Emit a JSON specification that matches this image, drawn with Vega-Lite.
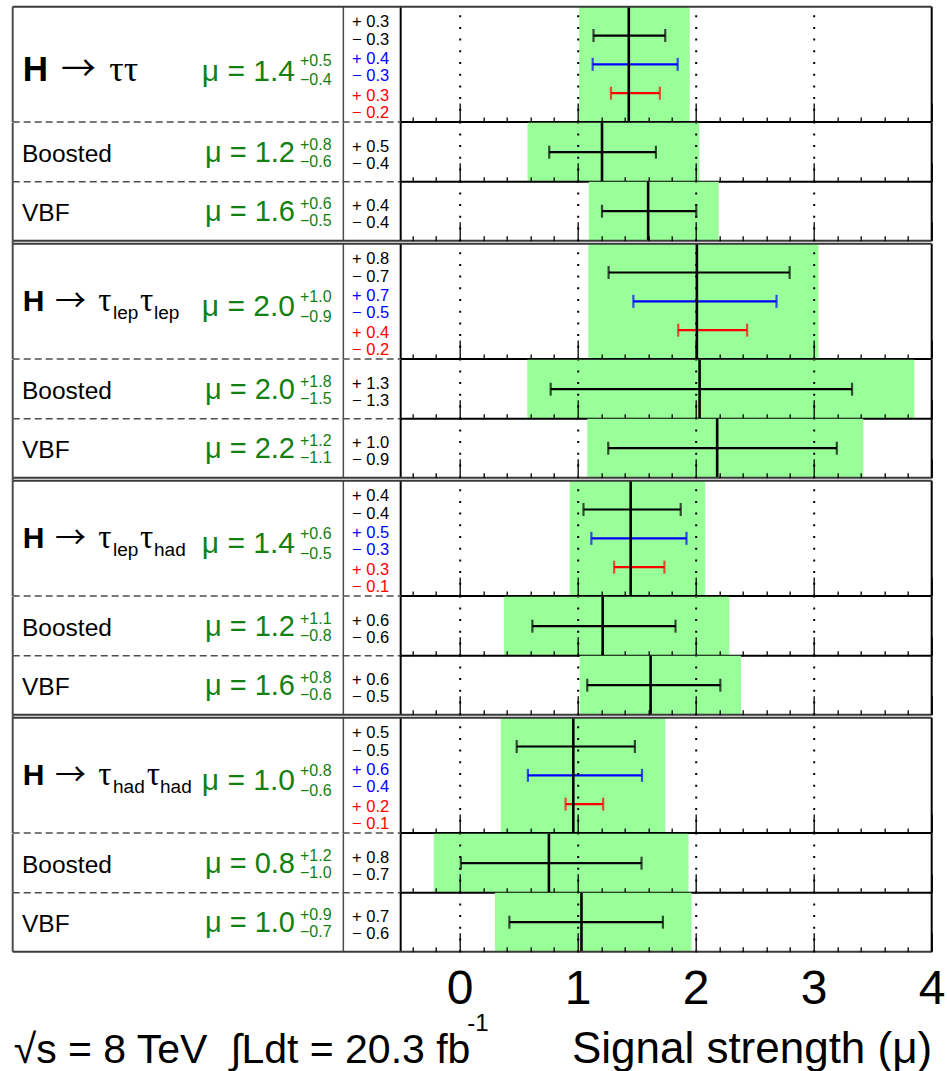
{
"$schema": "https://vega.github.io/schema/vega-lite/v6.json",
"padding": {"left": 11.7, "top": 4.7, "right": 0, "bottom": 0},
"config": {"view": {"stroke": null}, "font": "Liberation Sans", "text": {"font": "Liberation Sans", "color": "#000"}},
"datasets": {
"rows": [
 {"id":"tt","s1":"","s2":"","mu":1.433,"lo":1.012,"hi":1.949,"mt":"μ = 1.4","up":"+0.5","dn":"−0.4"},
 {"id":"tt_b","name":"Boosted","mu":1.206,"lo":0.575,"hi":2.031,"mt":"μ = 1.2","up":"+0.8","dn":"−0.6"},
 {"id":"tt_v","name":"VBF","mu":1.597,"lo":1.094,"hi":2.195,"mt":"μ = 1.6","up":"+0.6","dn":"−0.5"},
 {"id":"ll","s1":"lep","s2":"lep","mu":2.010,"lo":1.090,"hi":3.041,"mt":"μ = 2.0","up":"+1.0","dn":"−0.9"},
 {"id":"ll_b","name":"Boosted","mu":2.033,"lo":0.573,"hi":3.853,"mt":"μ = 2.0","up":"+1.8","dn":"−1.5"},
 {"id":"ll_v","name":"VBF","mu":2.182,"lo":1.081,"hi":3.421,"mt":"μ = 2.2","up":"+1.2","dn":"−1.1"},
 {"id":"lh","s1":"lep","s2":"had","mu":1.449,"lo":0.932,"hi":2.080,"mt":"μ = 1.4","up":"+0.6","dn":"−0.5"},
 {"id":"lh_b","name":"Boosted","mu":1.212,"lo":0.374,"hi":2.285,"mt":"μ = 1.2","up":"+1.1","dn":"−0.8"},
 {"id":"lh_v","name":"VBF","mu":1.618,"lo":1.017,"hi":2.384,"mt":"μ = 1.6","up":"+0.8","dn":"−0.6"},
 {"id":"hh","s1":"had","s2":"had","mu":0.963,"lo":0.348,"hi":1.742,"mt":"μ = 1.0","up":"+0.8","dn":"−0.6"},
 {"id":"hh_b","name":"Boosted","mu":0.756,"lo":-0.220,"hi":1.939,"mt":"μ = 0.8","up":"+1.2","dn":"−1.0"},
 {"id":"hh_v","name":"VBF","mu":1.032,"lo":0.299,"hi":1.965,"mt":"μ = 1.0","up":"+0.9","dn":"−0.7"}
],
"bars": [
 {"id":"tt","kind":"stat","lo":1.134,"hi":1.742,"up":"+ 0.3","dn":"− 0.3"},
 {"id":"tt","kind":"syst","lo":1.127,"hi":1.847,"up":"+ 0.4","dn":"− 0.3"},
 {"id":"tt","kind":"theo","lo":1.282,"hi":1.696,"up":"+ 0.3","dn":"− 0.2"},
 {"id":"tt_b","kind":"stat","lo":0.759,"hi":1.663,"up":"+ 0.5","dn":"− 0.4"},
 {"id":"tt_v","kind":"stat","lo":1.206,"hi":2.005,"up":"+ 0.4","dn":"− 0.4"},
 {"id":"ll","kind":"stat","lo":1.262,"hi":2.796,"up":"+ 0.8","dn":"− 0.7"},
 {"id":"ll","kind":"syst","lo":1.472,"hi":2.685,"up":"+ 0.7","dn":"− 0.5"},
 {"id":"ll","kind":"theo","lo":1.852,"hi":2.436,"up":"+ 0.4","dn":"− 0.2"},
 {"id":"ll_b","kind":"stat","lo":0.771,"hi":3.325,"up":"+ 1.3","dn":"− 1.3"},
 {"id":"ll_v","kind":"stat","lo":1.259,"hi":3.196,"up":"+ 1.0","dn":"− 0.9"},
 {"id":"lh","kind":"stat","lo":1.049,"hi":1.873,"up":"+ 0.4","dn":"− 0.4"},
 {"id":"lh","kind":"syst","lo":1.116,"hi":1.922,"up":"+ 0.5","dn":"− 0.3"},
 {"id":"lh","kind":"theo","lo":1.309,"hi":1.735,"up":"+ 0.3","dn":"− 0.1"},
 {"id":"lh_b","kind":"stat","lo":0.616,"hi":1.829,"up":"+ 0.6","dn":"− 0.6"},
 {"id":"lh_v","kind":"stat","lo":1.081,"hi":2.209,"up":"+ 0.6","dn":"− 0.5"},
 {"id":"hh","kind":"stat","lo":0.483,"hi":1.485,"up":"+ 0.5","dn":"− 0.5"},
 {"id":"hh","kind":"syst","lo":0.578,"hi":1.545,"up":"+ 0.6","dn":"− 0.4"},
 {"id":"hh","kind":"theo","lo":0.897,"hi":1.216,"up":"+ 0.2","dn":"− 0.1"},
 {"id":"hh_b","kind":"stat","lo":0.010,"hi":1.541,"up":"+ 0.8","dn":"− 0.7"},
 {"id":"hh_v","kind":"stat","lo":0.421,"hi":1.722,"up":"+ 0.7","dn":"− 0.6"}
],
"gap": [{"g": 1}]
},
"bounds": "flush",
"spacing": 0,
"vconcat": [
 {"width": 919, "height": 115.3, "data": {"name": "rows"}, "transform": [{"filter": "datum.id == 'tt'"}], "resolve": {"scale": {"y": "independent"}},
  "layer": [
   {"mark": {"type": "rect", "color": "#99ff99"}, "encoding": {"x": {"field": "lo", "type": "quantitative", "scale": {"domain": [-3.788, 4], "nice": false, "zero": false}, "axis": {"title": null, "values": [-0.4,-0.2,0,0.2,0.4,0.6,0.8,1,1.2,1.4,1.6,1.8,2,2.2,2.4,2.6,2.8,3,3.2,3.4,3.6,3.8,4], "labels": false, "domain": false, "grid": true, "zindex": 1, "gridColor": "#000", "gridWidth": 2, "gridDash": [2, 9.7], "gridOpacity": {"condition": {"test": "datum.value == round(datum.value) && datum.value < 3.5", "value": 1}, "value": 0}, "tickColor": "#000", "tickWidth": 1.3, "tickSize": {"condition": {"test": "datum.value == round(datum.value)", "value": -19}, "value": -5}}}, "x2": {"field": "hi"}}},
   {"data": {"name": "bars"}, "transform": [{"filter": "datum.id == 'tt'"}], "encoding": {"y": {"field": "kind", "type": "nominal", "scale": {"type": "point", "padding": 1}, "axis": null}, "color": {"field": "kind", "type": "nominal", "scale": {"domain": ["stat","syst","theo"], "range": ["#000000","#0000ff","#ff0000"]}, "legend": null}},
    "layer": [
     {"mark": {"type": "rule", "strokeWidth": 2.2}, "encoding": {"x": {"field": "lo", "type": "quantitative"}, "x2": {"field": "hi"}}},
     {"mark": {"type": "tick", "thickness": 2.2, "size": 13}, "encoding": {"x": {"field": "lo", "type": "quantitative"}}},
     {"mark": {"type": "tick", "thickness": 2.2, "size": 13}, "encoding": {"x": {"field": "hi", "type": "quantitative"}}}
    ]},
   {"mark": {"type": "rule", "color": "#000", "strokeWidth": 2.6}, "encoding": {"x": {"field": "mu", "type": "quantitative"}}},
   {"data": {"name": "bars"}, "transform": [{"filter": "datum.id == 'tt'"}], "encoding": {"x": {"datum": -0.597, "type": "quantitative"}, "y": {"field": "kind", "type": "nominal", "scale": {"type": "point", "padding": 0.57}, "axis": null}, "color": {"field": "kind", "type": "nominal", "legend": null}},
    "layer": [
     {"mark": {"type": "text", "align": "right", "baseline": "alphabetic", "fontSize": 16.5, "dy": -0.5}, "encoding": {"text": {"field": "up"}}},
     {"mark": {"type": "text", "align": "right", "baseline": "alphabetic", "fontSize": 16.5, "dy": 17}, "encoding": {"text": {"field": "dn"}}}
    ]},
   {"layer": [
     {"mark": {"type": "text", "text": "H", "fontSize": 35, "fontWeight": "bold", "align": "left", "baseline": "alphabetic", "dx": 0.7, "dy": 17, "color": "#000"}, "encoding": {"x": {"datum": -3.709, "type": "quantitative"}, "y": {"datum": 0.5, "type": "quantitative", "scale": {"domain": [0, 1]}, "axis": null}}},
     {"mark": {"type": "text", "text": "→", "font": "Noto Sans CJK SC", "fontSize": 35, "align": "left", "baseline": "alphabetic", "dx": 39, "dy": 17, "color": "#000"}, "encoding": {"x": {"datum": -3.709, "type": "quantitative"}, "y": {"datum": 0.5, "type": "quantitative"}}},
     {"mark": {"type": "text", "text": "ττ", "font": "Liberation Serif", "fontSize": 36, "align": "left", "baseline": "alphabetic", "dx": 87.3, "dy": 17, "color": "#000"}, "encoding": {"x": {"datum": -3.709, "type": "quantitative"}, "y": {"datum": 0.5, "type": "quantitative"}}},
     {"mark": {"type": "text", "fontSize": 30, "align": "right", "baseline": "alphabetic", "dy": 16.5, "color": "#138013"}, "encoding": {"x": {"datum": -1.396, "type": "quantitative"}, "y": {"datum": 0.5, "type": "quantitative"}, "text": {"field": "mt"}}},
     {"mark": {"type": "text", "fontSize": 16, "align": "left", "baseline": "alphabetic", "dy": 1.5, "color": "#138013"}, "encoding": {"x": {"datum": -1.353, "type": "quantitative"}, "y": {"datum": 0.5, "type": "quantitative"}, "text": {"field": "up"}}},
     {"mark": {"type": "text", "fontSize": 16, "align": "left", "baseline": "alphabetic", "dy": 20.5, "color": "#138013"}, "encoding": {"x": {"datum": -1.353, "type": "quantitative"}, "y": {"datum": 0.5, "type": "quantitative"}, "text": {"field": "dn"}}},
     {"mark": {"type": "rule", "color": "#4d4d4d", "strokeWidth": 2}, "encoding": {"x": {"datum": -3.788, "type": "quantitative"}}},
     {"mark": {"type": "rule", "color": "#4d4d4d", "strokeWidth": 1.5}, "encoding": {"x": {"datum": -0.986, "type": "quantitative"}}},
     {"mark": {"type": "rule", "color": "#000", "strokeWidth": 2}, "encoding": {"x": {"datum": -0.5, "type": "quantitative"}}},
     {"mark": {"type": "rule", "color": "#000", "strokeWidth": 2}, "encoding": {"x": {"datum": 4, "type": "quantitative"}}},
     {"mark": {"type": "rule", "color": "#3a3a3a", "strokeWidth": 2}, "encoding": {"x": {"datum": -3.788, "type": "quantitative"}, "x2": {"datum": 4}, "y": {"datum": 1, "type": "quantitative"}}},
     {"mark": {"type": "rule", "color": "#4d4d4d", "strokeWidth": 1.5, "strokeDash": [7, 4]}, "encoding": {"x": {"datum": -3.788, "type": "quantitative"}, "x2": {"datum": -0.5}, "y": {"datum": 0, "type": "quantitative"}}},
     {"mark": {"type": "rule", "color": "#000", "strokeWidth": 2}, "encoding": {"x": {"datum": -0.5, "type": "quantitative"}, "x2": {"datum": 4}, "y": {"datum": 0, "type": "quantitative"}}}
   ]}
  ]},
 {"width": 919, "height": 59, "data": {"name": "rows"}, "transform": [{"filter": "datum.id == 'tt_b'"}], "resolve": {"scale": {"y": "independent"}},
  "layer": [
   {"mark": {"type": "rect", "color": "#99ff99"}, "encoding": {"x": {"field": "lo", "type": "quantitative", "scale": {"domain": [-3.788, 4], "nice": false, "zero": false}, "axis": {"title": null, "values": [-0.4,-0.2,0,0.2,0.4,0.6,0.8,1,1.2,1.4,1.6,1.8,2,2.2,2.4,2.6,2.8,3,3.2,3.4,3.6,3.8,4], "labels": false, "domain": false, "grid": true, "zindex": 1, "gridColor": "#000", "gridWidth": 2, "gridDash": [2, 9.7], "gridOpacity": {"condition": {"test": "datum.value == round(datum.value) && datum.value < 3.5", "value": 1}, "value": 0}, "tickColor": "#000", "tickWidth": 1.3, "tickSize": {"condition": {"test": "datum.value == round(datum.value)", "value": -19}, "value": -5}}}, "x2": {"field": "hi"}}},
   {"data": {"name": "bars"}, "transform": [{"filter": "datum.id == 'tt_b'"}], "encoding": {"y": {"field": "kind", "type": "nominal", "scale": {"type": "point", "padding": 1}, "axis": null}, "color": {"field": "kind", "type": "nominal", "scale": {"domain": ["stat","syst","theo"], "range": ["#000000","#0000ff","#ff0000"]}, "legend": null}},
    "layer": [
     {"mark": {"type": "rule", "strokeWidth": 2.2}, "encoding": {"x": {"field": "lo", "type": "quantitative"}, "x2": {"field": "hi"}}},
     {"mark": {"type": "tick", "thickness": 2.2, "size": 13}, "encoding": {"x": {"field": "lo", "type": "quantitative"}}},
     {"mark": {"type": "tick", "thickness": 2.2, "size": 13}, "encoding": {"x": {"field": "hi", "type": "quantitative"}}}
    ]},
   {"mark": {"type": "rule", "color": "#000", "strokeWidth": 2.6}, "encoding": {"x": {"field": "mu", "type": "quantitative"}}},
   {"data": {"name": "bars"}, "transform": [{"filter": "datum.id == 'tt_b'"}], "encoding": {"x": {"datum": -0.597, "type": "quantitative"}, "y": {"field": "kind", "type": "nominal", "scale": {"type": "point", "padding": 0.57}, "axis": null}, "color": {"field": "kind", "type": "nominal", "legend": null}},
    "layer": [
     {"mark": {"type": "text", "align": "right", "baseline": "alphabetic", "fontSize": 16.5, "dy": -0.5}, "encoding": {"text": {"field": "up"}}},
     {"mark": {"type": "text", "align": "right", "baseline": "alphabetic", "fontSize": 16.5, "dy": 17}, "encoding": {"text": {"field": "dn"}}}
    ]},
   {"layer": [
     {"mark": {"type": "text", "fontSize": 24.5, "align": "left", "baseline": "alphabetic", "dy": 10.3, "color": "#000"}, "encoding": {"x": {"datum": -3.709, "type": "quantitative"}, "y": {"datum": 0.5, "type": "quantitative", "scale": {"domain": [0, 1]}, "axis": null}, "text": {"field": "name"}}},
     {"mark": {"type": "text", "fontSize": 29, "align": "right", "baseline": "alphabetic", "dy": 10.3, "color": "#138013"}, "encoding": {"x": {"datum": -1.396, "type": "quantitative"}, "y": {"datum": 0.5, "type": "quantitative"}, "text": {"field": "mt"}}},
     {"mark": {"type": "text", "fontSize": 16, "align": "left", "baseline": "alphabetic", "dy": -2.3, "color": "#138013"}, "encoding": {"x": {"datum": -1.353, "type": "quantitative"}, "y": {"datum": 0.5, "type": "quantitative"}, "text": {"field": "up"}}},
     {"mark": {"type": "text", "fontSize": 16, "align": "left", "baseline": "alphabetic", "dy": 15.3, "color": "#138013"}, "encoding": {"x": {"datum": -1.353, "type": "quantitative"}, "y": {"datum": 0.5, "type": "quantitative"}, "text": {"field": "dn"}}},
     {"mark": {"type": "rule", "color": "#4d4d4d", "strokeWidth": 2}, "encoding": {"x": {"datum": -3.788, "type": "quantitative"}}},
     {"mark": {"type": "rule", "color": "#4d4d4d", "strokeWidth": 1.5}, "encoding": {"x": {"datum": -0.986, "type": "quantitative"}}},
     {"mark": {"type": "rule", "color": "#000", "strokeWidth": 2}, "encoding": {"x": {"datum": -0.5, "type": "quantitative"}}},
     {"mark": {"type": "rule", "color": "#000", "strokeWidth": 2}, "encoding": {"x": {"datum": 4, "type": "quantitative"}}},
     {"mark": {"type": "rule", "color": "#4d4d4d", "strokeWidth": 1.5, "strokeDash": [7, 4]}, "encoding": {"x": {"datum": -3.788, "type": "quantitative"}, "x2": {"datum": -0.5}, "y": {"datum": 0, "type": "quantitative"}}},
     {"mark": {"type": "rule", "color": "#000", "strokeWidth": 2}, "encoding": {"x": {"datum": -0.5, "type": "quantitative"}, "x2": {"datum": 4}, "y": {"datum": 0, "type": "quantitative"}}}
   ]}
  ]},
 {"width": 919, "height": 59, "data": {"name": "rows"}, "transform": [{"filter": "datum.id == 'tt_v'"}], "resolve": {"scale": {"y": "independent"}},
  "layer": [
   {"mark": {"type": "rect", "color": "#99ff99"}, "encoding": {"x": {"field": "lo", "type": "quantitative", "scale": {"domain": [-3.788, 4], "nice": false, "zero": false}, "axis": {"title": null, "values": [-0.4,-0.2,0,0.2,0.4,0.6,0.8,1,1.2,1.4,1.6,1.8,2,2.2,2.4,2.6,2.8,3,3.2,3.4,3.6,3.8,4], "labels": false, "domain": false, "grid": true, "zindex": 1, "gridColor": "#000", "gridWidth": 2, "gridDash": [2, 9.7], "gridOpacity": {"condition": {"test": "datum.value == round(datum.value) && datum.value < 3.5", "value": 1}, "value": 0}, "tickColor": "#000", "tickWidth": 1.3, "tickSize": {"condition": {"test": "datum.value == round(datum.value)", "value": -19}, "value": -5}}}, "x2": {"field": "hi"}}},
   {"data": {"name": "bars"}, "transform": [{"filter": "datum.id == 'tt_v'"}], "encoding": {"y": {"field": "kind", "type": "nominal", "scale": {"type": "point", "padding": 1}, "axis": null}, "color": {"field": "kind", "type": "nominal", "scale": {"domain": ["stat","syst","theo"], "range": ["#000000","#0000ff","#ff0000"]}, "legend": null}},
    "layer": [
     {"mark": {"type": "rule", "strokeWidth": 2.2}, "encoding": {"x": {"field": "lo", "type": "quantitative"}, "x2": {"field": "hi"}}},
     {"mark": {"type": "tick", "thickness": 2.2, "size": 13}, "encoding": {"x": {"field": "lo", "type": "quantitative"}}},
     {"mark": {"type": "tick", "thickness": 2.2, "size": 13}, "encoding": {"x": {"field": "hi", "type": "quantitative"}}}
    ]},
   {"mark": {"type": "rule", "color": "#000", "strokeWidth": 2.6}, "encoding": {"x": {"field": "mu", "type": "quantitative"}}},
   {"data": {"name": "bars"}, "transform": [{"filter": "datum.id == 'tt_v'"}], "encoding": {"x": {"datum": -0.597, "type": "quantitative"}, "y": {"field": "kind", "type": "nominal", "scale": {"type": "point", "padding": 0.57}, "axis": null}, "color": {"field": "kind", "type": "nominal", "legend": null}},
    "layer": [
     {"mark": {"type": "text", "align": "right", "baseline": "alphabetic", "fontSize": 16.5, "dy": -0.5}, "encoding": {"text": {"field": "up"}}},
     {"mark": {"type": "text", "align": "right", "baseline": "alphabetic", "fontSize": 16.5, "dy": 17}, "encoding": {"text": {"field": "dn"}}}
    ]},
   {"layer": [
     {"mark": {"type": "text", "fontSize": 24.5, "align": "left", "baseline": "alphabetic", "dy": 10.3, "color": "#000"}, "encoding": {"x": {"datum": -3.709, "type": "quantitative"}, "y": {"datum": 0.5, "type": "quantitative", "scale": {"domain": [0, 1]}, "axis": null}, "text": {"field": "name"}}},
     {"mark": {"type": "text", "fontSize": 29, "align": "right", "baseline": "alphabetic", "dy": 10.3, "color": "#138013"}, "encoding": {"x": {"datum": -1.396, "type": "quantitative"}, "y": {"datum": 0.5, "type": "quantitative"}, "text": {"field": "mt"}}},
     {"mark": {"type": "text", "fontSize": 16, "align": "left", "baseline": "alphabetic", "dy": -2.3, "color": "#138013"}, "encoding": {"x": {"datum": -1.353, "type": "quantitative"}, "y": {"datum": 0.5, "type": "quantitative"}, "text": {"field": "up"}}},
     {"mark": {"type": "text", "fontSize": 16, "align": "left", "baseline": "alphabetic", "dy": 15.3, "color": "#138013"}, "encoding": {"x": {"datum": -1.353, "type": "quantitative"}, "y": {"datum": 0.5, "type": "quantitative"}, "text": {"field": "dn"}}},
     {"mark": {"type": "rule", "color": "#4d4d4d", "strokeWidth": 2}, "encoding": {"x": {"datum": -3.788, "type": "quantitative"}}},
     {"mark": {"type": "rule", "color": "#4d4d4d", "strokeWidth": 1.5}, "encoding": {"x": {"datum": -0.986, "type": "quantitative"}}},
     {"mark": {"type": "rule", "color": "#000", "strokeWidth": 2}, "encoding": {"x": {"datum": -0.5, "type": "quantitative"}}},
     {"mark": {"type": "rule", "color": "#000", "strokeWidth": 2}, "encoding": {"x": {"datum": 4, "type": "quantitative"}}},
     {"mark": {"type": "rule", "color": "#3a3a3a", "strokeWidth": 2}, "encoding": {"x": {"datum": -3.788, "type": "quantitative"}, "x2": {"datum": 4}, "y": {"datum": 0, "type": "quantitative"}}}
   ]}
  ]},
 {"width": 919, "height": 3, "data": {"name": "gap"}, "mark": {"type": "rule", "color": "#4d4d4d", "strokeWidth": 2}, "encoding": {"x": {"datum": -3.788, "type": "quantitative", "scale": {"domain": [-3.788, 4], "nice": false, "zero": false}, "axis": null}}},
 {"width": 919, "height": 115.3, "data": {"name": "rows"}, "transform": [{"filter": "datum.id == 'll'"}], "resolve": {"scale": {"y": "independent"}},
  "layer": [
   {"mark": {"type": "rect", "color": "#99ff99"}, "encoding": {"x": {"field": "lo", "type": "quantitative", "scale": {"domain": [-3.788, 4], "nice": false, "zero": false}, "axis": {"title": null, "values": [-0.4,-0.2,0,0.2,0.4,0.6,0.8,1,1.2,1.4,1.6,1.8,2,2.2,2.4,2.6,2.8,3,3.2,3.4,3.6,3.8,4], "labels": false, "domain": false, "grid": true, "zindex": 1, "gridColor": "#000", "gridWidth": 2, "gridDash": [2, 9.7], "gridOpacity": {"condition": {"test": "datum.value == round(datum.value) && datum.value < 3.5", "value": 1}, "value": 0}, "tickColor": "#000", "tickWidth": 1.3, "tickSize": {"condition": {"test": "datum.value == round(datum.value)", "value": -19}, "value": -5}}}, "x2": {"field": "hi"}}},
   {"data": {"name": "bars"}, "transform": [{"filter": "datum.id == 'll'"}], "encoding": {"y": {"field": "kind", "type": "nominal", "scale": {"type": "point", "padding": 1}, "axis": null}, "color": {"field": "kind", "type": "nominal", "scale": {"domain": ["stat","syst","theo"], "range": ["#000000","#0000ff","#ff0000"]}, "legend": null}},
    "layer": [
     {"mark": {"type": "rule", "strokeWidth": 2.2}, "encoding": {"x": {"field": "lo", "type": "quantitative"}, "x2": {"field": "hi"}}},
     {"mark": {"type": "tick", "thickness": 2.2, "size": 13}, "encoding": {"x": {"field": "lo", "type": "quantitative"}}},
     {"mark": {"type": "tick", "thickness": 2.2, "size": 13}, "encoding": {"x": {"field": "hi", "type": "quantitative"}}}
    ]},
   {"mark": {"type": "rule", "color": "#000", "strokeWidth": 2.6}, "encoding": {"x": {"field": "mu", "type": "quantitative"}}},
   {"data": {"name": "bars"}, "transform": [{"filter": "datum.id == 'll'"}], "encoding": {"x": {"datum": -0.597, "type": "quantitative"}, "y": {"field": "kind", "type": "nominal", "scale": {"type": "point", "padding": 0.57}, "axis": null}, "color": {"field": "kind", "type": "nominal", "legend": null}},
    "layer": [
     {"mark": {"type": "text", "align": "right", "baseline": "alphabetic", "fontSize": 16.5, "dy": -0.5}, "encoding": {"text": {"field": "up"}}},
     {"mark": {"type": "text", "align": "right", "baseline": "alphabetic", "fontSize": 16.5, "dy": 17}, "encoding": {"text": {"field": "dn"}}}
    ]},
   {"layer": [
     {"mark": {"type": "text", "text": "H", "fontSize": 30, "fontWeight": "bold", "align": "left", "baseline": "alphabetic", "dx": 0.7, "dy": 9.7, "color": "#000"}, "encoding": {"x": {"datum": -3.709, "type": "quantitative"}, "y": {"datum": 0.5, "type": "quantitative", "scale": {"domain": [0, 1]}, "axis": null}}},
     {"mark": {"type": "text", "text": "→", "font": "Noto Sans CJK SC", "fontSize": 31, "align": "left", "baseline": "alphabetic", "dx": 33, "dy": 9.7, "color": "#000"}, "encoding": {"x": {"datum": -3.709, "type": "quantitative"}, "y": {"datum": 0.5, "type": "quantitative"}}},
     {"mark": {"type": "text", "text": "τ", "font": "Liberation Serif", "fontSize": 33, "align": "left", "baseline": "alphabetic", "dx": 76.3, "dy": 9.7, "color": "#000"}, "encoding": {"x": {"datum": -3.709, "type": "quantitative"}, "y": {"datum": 0.5, "type": "quantitative"}}},
     {"mark": {"type": "text", "fontSize": 19, "align": "left", "baseline": "alphabetic", "dx": 91, "dy": 18, "color": "#000"}, "encoding": {"x": {"datum": -3.709, "type": "quantitative"}, "y": {"datum": 0.5, "type": "quantitative"}, "text": {"field": "s1"}}},
     {"mark": {"type": "text", "text": "τ", "font": "Liberation Serif", "fontSize": 33, "align": "left", "baseline": "alphabetic", "dx": 118, "dy": 9.7, "color": "#000"}, "encoding": {"x": {"datum": -3.709, "type": "quantitative"}, "y": {"datum": 0.5, "type": "quantitative"}}},
     {"mark": {"type": "text", "fontSize": 19, "align": "left", "baseline": "alphabetic", "dx": 132, "dy": 18, "color": "#000"}, "encoding": {"x": {"datum": -3.709, "type": "quantitative"}, "y": {"datum": 0.5, "type": "quantitative"}, "text": {"field": "s2"}}},
     {"mark": {"type": "text", "fontSize": 30, "align": "right", "baseline": "alphabetic", "dy": 14.7, "color": "#138013"}, "encoding": {"x": {"datum": -1.396, "type": "quantitative"}, "y": {"datum": 0.5, "type": "quantitative"}, "text": {"field": "mt"}}},
     {"mark": {"type": "text", "fontSize": 16, "align": "left", "baseline": "alphabetic", "dy": 0.7, "color": "#138013"}, "encoding": {"x": {"datum": -1.353, "type": "quantitative"}, "y": {"datum": 0.5, "type": "quantitative"}, "text": {"field": "up"}}},
     {"mark": {"type": "text", "fontSize": 16, "align": "left", "baseline": "alphabetic", "dy": 20.7, "color": "#138013"}, "encoding": {"x": {"datum": -1.353, "type": "quantitative"}, "y": {"datum": 0.5, "type": "quantitative"}, "text": {"field": "dn"}}},
     {"mark": {"type": "rule", "color": "#4d4d4d", "strokeWidth": 2}, "encoding": {"x": {"datum": -3.788, "type": "quantitative"}}},
     {"mark": {"type": "rule", "color": "#4d4d4d", "strokeWidth": 1.5}, "encoding": {"x": {"datum": -0.986, "type": "quantitative"}}},
     {"mark": {"type": "rule", "color": "#000", "strokeWidth": 2}, "encoding": {"x": {"datum": -0.5, "type": "quantitative"}}},
     {"mark": {"type": "rule", "color": "#000", "strokeWidth": 2}, "encoding": {"x": {"datum": 4, "type": "quantitative"}}},
     {"mark": {"type": "rule", "color": "#3a3a3a", "strokeWidth": 2}, "encoding": {"x": {"datum": -3.788, "type": "quantitative"}, "x2": {"datum": 4}, "y": {"datum": 1, "type": "quantitative"}}},
     {"mark": {"type": "rule", "color": "#4d4d4d", "strokeWidth": 1.5, "strokeDash": [7, 4]}, "encoding": {"x": {"datum": -3.788, "type": "quantitative"}, "x2": {"datum": -0.5}, "y": {"datum": 0, "type": "quantitative"}}},
     {"mark": {"type": "rule", "color": "#000", "strokeWidth": 2}, "encoding": {"x": {"datum": -0.5, "type": "quantitative"}, "x2": {"datum": 4}, "y": {"datum": 0, "type": "quantitative"}}}
   ]}
  ]},
 {"width": 919, "height": 59, "data": {"name": "rows"}, "transform": [{"filter": "datum.id == 'll_b'"}], "resolve": {"scale": {"y": "independent"}},
  "layer": [
   {"mark": {"type": "rect", "color": "#99ff99"}, "encoding": {"x": {"field": "lo", "type": "quantitative", "scale": {"domain": [-3.788, 4], "nice": false, "zero": false}, "axis": {"title": null, "values": [-0.4,-0.2,0,0.2,0.4,0.6,0.8,1,1.2,1.4,1.6,1.8,2,2.2,2.4,2.6,2.8,3,3.2,3.4,3.6,3.8,4], "labels": false, "domain": false, "grid": true, "zindex": 1, "gridColor": "#000", "gridWidth": 2, "gridDash": [2, 9.7], "gridOpacity": {"condition": {"test": "datum.value == round(datum.value) && datum.value < 3.5", "value": 1}, "value": 0}, "tickColor": "#000", "tickWidth": 1.3, "tickSize": {"condition": {"test": "datum.value == round(datum.value)", "value": -19}, "value": -5}}}, "x2": {"field": "hi"}}},
   {"data": {"name": "bars"}, "transform": [{"filter": "datum.id == 'll_b'"}], "encoding": {"y": {"field": "kind", "type": "nominal", "scale": {"type": "point", "padding": 1}, "axis": null}, "color": {"field": "kind", "type": "nominal", "scale": {"domain": ["stat","syst","theo"], "range": ["#000000","#0000ff","#ff0000"]}, "legend": null}},
    "layer": [
     {"mark": {"type": "rule", "strokeWidth": 2.2}, "encoding": {"x": {"field": "lo", "type": "quantitative"}, "x2": {"field": "hi"}}},
     {"mark": {"type": "tick", "thickness": 2.2, "size": 13}, "encoding": {"x": {"field": "lo", "type": "quantitative"}}},
     {"mark": {"type": "tick", "thickness": 2.2, "size": 13}, "encoding": {"x": {"field": "hi", "type": "quantitative"}}}
    ]},
   {"mark": {"type": "rule", "color": "#000", "strokeWidth": 2.6}, "encoding": {"x": {"field": "mu", "type": "quantitative"}}},
   {"data": {"name": "bars"}, "transform": [{"filter": "datum.id == 'll_b'"}], "encoding": {"x": {"datum": -0.597, "type": "quantitative"}, "y": {"field": "kind", "type": "nominal", "scale": {"type": "point", "padding": 0.57}, "axis": null}, "color": {"field": "kind", "type": "nominal", "legend": null}},
    "layer": [
     {"mark": {"type": "text", "align": "right", "baseline": "alphabetic", "fontSize": 16.5, "dy": -0.5}, "encoding": {"text": {"field": "up"}}},
     {"mark": {"type": "text", "align": "right", "baseline": "alphabetic", "fontSize": 16.5, "dy": 17}, "encoding": {"text": {"field": "dn"}}}
    ]},
   {"layer": [
     {"mark": {"type": "text", "fontSize": 24.5, "align": "left", "baseline": "alphabetic", "dy": 10.3, "color": "#000"}, "encoding": {"x": {"datum": -3.709, "type": "quantitative"}, "y": {"datum": 0.5, "type": "quantitative", "scale": {"domain": [0, 1]}, "axis": null}, "text": {"field": "name"}}},
     {"mark": {"type": "text", "fontSize": 29, "align": "right", "baseline": "alphabetic", "dy": 10.3, "color": "#138013"}, "encoding": {"x": {"datum": -1.396, "type": "quantitative"}, "y": {"datum": 0.5, "type": "quantitative"}, "text": {"field": "mt"}}},
     {"mark": {"type": "text", "fontSize": 16, "align": "left", "baseline": "alphabetic", "dy": -2.3, "color": "#138013"}, "encoding": {"x": {"datum": -1.353, "type": "quantitative"}, "y": {"datum": 0.5, "type": "quantitative"}, "text": {"field": "up"}}},
     {"mark": {"type": "text", "fontSize": 16, "align": "left", "baseline": "alphabetic", "dy": 15.3, "color": "#138013"}, "encoding": {"x": {"datum": -1.353, "type": "quantitative"}, "y": {"datum": 0.5, "type": "quantitative"}, "text": {"field": "dn"}}},
     {"mark": {"type": "rule", "color": "#4d4d4d", "strokeWidth": 2}, "encoding": {"x": {"datum": -3.788, "type": "quantitative"}}},
     {"mark": {"type": "rule", "color": "#4d4d4d", "strokeWidth": 1.5}, "encoding": {"x": {"datum": -0.986, "type": "quantitative"}}},
     {"mark": {"type": "rule", "color": "#000", "strokeWidth": 2}, "encoding": {"x": {"datum": -0.5, "type": "quantitative"}}},
     {"mark": {"type": "rule", "color": "#000", "strokeWidth": 2}, "encoding": {"x": {"datum": 4, "type": "quantitative"}}},
     {"mark": {"type": "rule", "color": "#4d4d4d", "strokeWidth": 1.5, "strokeDash": [7, 4]}, "encoding": {"x": {"datum": -3.788, "type": "quantitative"}, "x2": {"datum": -0.5}, "y": {"datum": 0, "type": "quantitative"}}},
     {"mark": {"type": "rule", "color": "#000", "strokeWidth": 2}, "encoding": {"x": {"datum": -0.5, "type": "quantitative"}, "x2": {"datum": 4}, "y": {"datum": 0, "type": "quantitative"}}}
   ]}
  ]},
 {"width": 919, "height": 59, "data": {"name": "rows"}, "transform": [{"filter": "datum.id == 'll_v'"}], "resolve": {"scale": {"y": "independent"}},
  "layer": [
   {"mark": {"type": "rect", "color": "#99ff99"}, "encoding": {"x": {"field": "lo", "type": "quantitative", "scale": {"domain": [-3.788, 4], "nice": false, "zero": false}, "axis": {"title": null, "values": [-0.4,-0.2,0,0.2,0.4,0.6,0.8,1,1.2,1.4,1.6,1.8,2,2.2,2.4,2.6,2.8,3,3.2,3.4,3.6,3.8,4], "labels": false, "domain": false, "grid": true, "zindex": 1, "gridColor": "#000", "gridWidth": 2, "gridDash": [2, 9.7], "gridOpacity": {"condition": {"test": "datum.value == round(datum.value) && datum.value < 3.5", "value": 1}, "value": 0}, "tickColor": "#000", "tickWidth": 1.3, "tickSize": {"condition": {"test": "datum.value == round(datum.value)", "value": -19}, "value": -5}}}, "x2": {"field": "hi"}}},
   {"data": {"name": "bars"}, "transform": [{"filter": "datum.id == 'll_v'"}], "encoding": {"y": {"field": "kind", "type": "nominal", "scale": {"type": "point", "padding": 1}, "axis": null}, "color": {"field": "kind", "type": "nominal", "scale": {"domain": ["stat","syst","theo"], "range": ["#000000","#0000ff","#ff0000"]}, "legend": null}},
    "layer": [
     {"mark": {"type": "rule", "strokeWidth": 2.2}, "encoding": {"x": {"field": "lo", "type": "quantitative"}, "x2": {"field": "hi"}}},
     {"mark": {"type": "tick", "thickness": 2.2, "size": 13}, "encoding": {"x": {"field": "lo", "type": "quantitative"}}},
     {"mark": {"type": "tick", "thickness": 2.2, "size": 13}, "encoding": {"x": {"field": "hi", "type": "quantitative"}}}
    ]},
   {"mark": {"type": "rule", "color": "#000", "strokeWidth": 2.6}, "encoding": {"x": {"field": "mu", "type": "quantitative"}}},
   {"data": {"name": "bars"}, "transform": [{"filter": "datum.id == 'll_v'"}], "encoding": {"x": {"datum": -0.597, "type": "quantitative"}, "y": {"field": "kind", "type": "nominal", "scale": {"type": "point", "padding": 0.57}, "axis": null}, "color": {"field": "kind", "type": "nominal", "legend": null}},
    "layer": [
     {"mark": {"type": "text", "align": "right", "baseline": "alphabetic", "fontSize": 16.5, "dy": -0.5}, "encoding": {"text": {"field": "up"}}},
     {"mark": {"type": "text", "align": "right", "baseline": "alphabetic", "fontSize": 16.5, "dy": 17}, "encoding": {"text": {"field": "dn"}}}
    ]},
   {"layer": [
     {"mark": {"type": "text", "fontSize": 24.5, "align": "left", "baseline": "alphabetic", "dy": 10.3, "color": "#000"}, "encoding": {"x": {"datum": -3.709, "type": "quantitative"}, "y": {"datum": 0.5, "type": "quantitative", "scale": {"domain": [0, 1]}, "axis": null}, "text": {"field": "name"}}},
     {"mark": {"type": "text", "fontSize": 29, "align": "right", "baseline": "alphabetic", "dy": 10.3, "color": "#138013"}, "encoding": {"x": {"datum": -1.396, "type": "quantitative"}, "y": {"datum": 0.5, "type": "quantitative"}, "text": {"field": "mt"}}},
     {"mark": {"type": "text", "fontSize": 16, "align": "left", "baseline": "alphabetic", "dy": -2.3, "color": "#138013"}, "encoding": {"x": {"datum": -1.353, "type": "quantitative"}, "y": {"datum": 0.5, "type": "quantitative"}, "text": {"field": "up"}}},
     {"mark": {"type": "text", "fontSize": 16, "align": "left", "baseline": "alphabetic", "dy": 15.3, "color": "#138013"}, "encoding": {"x": {"datum": -1.353, "type": "quantitative"}, "y": {"datum": 0.5, "type": "quantitative"}, "text": {"field": "dn"}}},
     {"mark": {"type": "rule", "color": "#4d4d4d", "strokeWidth": 2}, "encoding": {"x": {"datum": -3.788, "type": "quantitative"}}},
     {"mark": {"type": "rule", "color": "#4d4d4d", "strokeWidth": 1.5}, "encoding": {"x": {"datum": -0.986, "type": "quantitative"}}},
     {"mark": {"type": "rule", "color": "#000", "strokeWidth": 2}, "encoding": {"x": {"datum": -0.5, "type": "quantitative"}}},
     {"mark": {"type": "rule", "color": "#000", "strokeWidth": 2}, "encoding": {"x": {"datum": 4, "type": "quantitative"}}},
     {"mark": {"type": "rule", "color": "#3a3a3a", "strokeWidth": 2}, "encoding": {"x": {"datum": -3.788, "type": "quantitative"}, "x2": {"datum": 4}, "y": {"datum": 0, "type": "quantitative"}}}
   ]}
  ]},
 {"width": 919, "height": 3, "data": {"name": "gap"}, "mark": {"type": "rule", "color": "#4d4d4d", "strokeWidth": 2}, "encoding": {"x": {"datum": -3.788, "type": "quantitative", "scale": {"domain": [-3.788, 4], "nice": false, "zero": false}, "axis": null}}},
 {"width": 919, "height": 115.3, "data": {"name": "rows"}, "transform": [{"filter": "datum.id == 'lh'"}], "resolve": {"scale": {"y": "independent"}},
  "layer": [
   {"mark": {"type": "rect", "color": "#99ff99"}, "encoding": {"x": {"field": "lo", "type": "quantitative", "scale": {"domain": [-3.788, 4], "nice": false, "zero": false}, "axis": {"title": null, "values": [-0.4,-0.2,0,0.2,0.4,0.6,0.8,1,1.2,1.4,1.6,1.8,2,2.2,2.4,2.6,2.8,3,3.2,3.4,3.6,3.8,4], "labels": false, "domain": false, "grid": true, "zindex": 1, "gridColor": "#000", "gridWidth": 2, "gridDash": [2, 9.7], "gridOpacity": {"condition": {"test": "datum.value == round(datum.value) && datum.value < 3.5", "value": 1}, "value": 0}, "tickColor": "#000", "tickWidth": 1.3, "tickSize": {"condition": {"test": "datum.value == round(datum.value)", "value": -19}, "value": -5}}}, "x2": {"field": "hi"}}},
   {"data": {"name": "bars"}, "transform": [{"filter": "datum.id == 'lh'"}], "encoding": {"y": {"field": "kind", "type": "nominal", "scale": {"type": "point", "padding": 1}, "axis": null}, "color": {"field": "kind", "type": "nominal", "scale": {"domain": ["stat","syst","theo"], "range": ["#000000","#0000ff","#ff0000"]}, "legend": null}},
    "layer": [
     {"mark": {"type": "rule", "strokeWidth": 2.2}, "encoding": {"x": {"field": "lo", "type": "quantitative"}, "x2": {"field": "hi"}}},
     {"mark": {"type": "tick", "thickness": 2.2, "size": 13}, "encoding": {"x": {"field": "lo", "type": "quantitative"}}},
     {"mark": {"type": "tick", "thickness": 2.2, "size": 13}, "encoding": {"x": {"field": "hi", "type": "quantitative"}}}
    ]},
   {"mark": {"type": "rule", "color": "#000", "strokeWidth": 2.6}, "encoding": {"x": {"field": "mu", "type": "quantitative"}}},
   {"data": {"name": "bars"}, "transform": [{"filter": "datum.id == 'lh'"}], "encoding": {"x": {"datum": -0.597, "type": "quantitative"}, "y": {"field": "kind", "type": "nominal", "scale": {"type": "point", "padding": 0.57}, "axis": null}, "color": {"field": "kind", "type": "nominal", "legend": null}},
    "layer": [
     {"mark": {"type": "text", "align": "right", "baseline": "alphabetic", "fontSize": 16.5, "dy": -0.5}, "encoding": {"text": {"field": "up"}}},
     {"mark": {"type": "text", "align": "right", "baseline": "alphabetic", "fontSize": 16.5, "dy": 17}, "encoding": {"text": {"field": "dn"}}}
    ]},
   {"layer": [
     {"mark": {"type": "text", "text": "H", "fontSize": 30, "fontWeight": "bold", "align": "left", "baseline": "alphabetic", "dx": 0.7, "dy": 9.7, "color": "#000"}, "encoding": {"x": {"datum": -3.709, "type": "quantitative"}, "y": {"datum": 0.5, "type": "quantitative", "scale": {"domain": [0, 1]}, "axis": null}}},
     {"mark": {"type": "text", "text": "→", "font": "Noto Sans CJK SC", "fontSize": 31, "align": "left", "baseline": "alphabetic", "dx": 33, "dy": 9.7, "color": "#000"}, "encoding": {"x": {"datum": -3.709, "type": "quantitative"}, "y": {"datum": 0.5, "type": "quantitative"}}},
     {"mark": {"type": "text", "text": "τ", "font": "Liberation Serif", "fontSize": 33, "align": "left", "baseline": "alphabetic", "dx": 76.3, "dy": 9.7, "color": "#000"}, "encoding": {"x": {"datum": -3.709, "type": "quantitative"}, "y": {"datum": 0.5, "type": "quantitative"}}},
     {"mark": {"type": "text", "fontSize": 19, "align": "left", "baseline": "alphabetic", "dx": 91, "dy": 18, "color": "#000"}, "encoding": {"x": {"datum": -3.709, "type": "quantitative"}, "y": {"datum": 0.5, "type": "quantitative"}, "text": {"field": "s1"}}},
     {"mark": {"type": "text", "text": "τ", "font": "Liberation Serif", "fontSize": 33, "align": "left", "baseline": "alphabetic", "dx": 118, "dy": 9.7, "color": "#000"}, "encoding": {"x": {"datum": -3.709, "type": "quantitative"}, "y": {"datum": 0.5, "type": "quantitative"}}},
     {"mark": {"type": "text", "fontSize": 19, "align": "left", "baseline": "alphabetic", "dx": 132, "dy": 18, "color": "#000"}, "encoding": {"x": {"datum": -3.709, "type": "quantitative"}, "y": {"datum": 0.5, "type": "quantitative"}, "text": {"field": "s2"}}},
     {"mark": {"type": "text", "fontSize": 30, "align": "right", "baseline": "alphabetic", "dy": 14.7, "color": "#138013"}, "encoding": {"x": {"datum": -1.396, "type": "quantitative"}, "y": {"datum": 0.5, "type": "quantitative"}, "text": {"field": "mt"}}},
     {"mark": {"type": "text", "fontSize": 16, "align": "left", "baseline": "alphabetic", "dy": 0.7, "color": "#138013"}, "encoding": {"x": {"datum": -1.353, "type": "quantitative"}, "y": {"datum": 0.5, "type": "quantitative"}, "text": {"field": "up"}}},
     {"mark": {"type": "text", "fontSize": 16, "align": "left", "baseline": "alphabetic", "dy": 20.7, "color": "#138013"}, "encoding": {"x": {"datum": -1.353, "type": "quantitative"}, "y": {"datum": 0.5, "type": "quantitative"}, "text": {"field": "dn"}}},
     {"mark": {"type": "rule", "color": "#4d4d4d", "strokeWidth": 2}, "encoding": {"x": {"datum": -3.788, "type": "quantitative"}}},
     {"mark": {"type": "rule", "color": "#4d4d4d", "strokeWidth": 1.5}, "encoding": {"x": {"datum": -0.986, "type": "quantitative"}}},
     {"mark": {"type": "rule", "color": "#000", "strokeWidth": 2}, "encoding": {"x": {"datum": -0.5, "type": "quantitative"}}},
     {"mark": {"type": "rule", "color": "#000", "strokeWidth": 2}, "encoding": {"x": {"datum": 4, "type": "quantitative"}}},
     {"mark": {"type": "rule", "color": "#3a3a3a", "strokeWidth": 2}, "encoding": {"x": {"datum": -3.788, "type": "quantitative"}, "x2": {"datum": 4}, "y": {"datum": 1, "type": "quantitative"}}},
     {"mark": {"type": "rule", "color": "#4d4d4d", "strokeWidth": 1.5, "strokeDash": [7, 4]}, "encoding": {"x": {"datum": -3.788, "type": "quantitative"}, "x2": {"datum": -0.5}, "y": {"datum": 0, "type": "quantitative"}}},
     {"mark": {"type": "rule", "color": "#000", "strokeWidth": 2}, "encoding": {"x": {"datum": -0.5, "type": "quantitative"}, "x2": {"datum": 4}, "y": {"datum": 0, "type": "quantitative"}}}
   ]}
  ]},
 {"width": 919, "height": 59, "data": {"name": "rows"}, "transform": [{"filter": "datum.id == 'lh_b'"}], "resolve": {"scale": {"y": "independent"}},
  "layer": [
   {"mark": {"type": "rect", "color": "#99ff99"}, "encoding": {"x": {"field": "lo", "type": "quantitative", "scale": {"domain": [-3.788, 4], "nice": false, "zero": false}, "axis": {"title": null, "values": [-0.4,-0.2,0,0.2,0.4,0.6,0.8,1,1.2,1.4,1.6,1.8,2,2.2,2.4,2.6,2.8,3,3.2,3.4,3.6,3.8,4], "labels": false, "domain": false, "grid": true, "zindex": 1, "gridColor": "#000", "gridWidth": 2, "gridDash": [2, 9.7], "gridOpacity": {"condition": {"test": "datum.value == round(datum.value) && datum.value < 3.5", "value": 1}, "value": 0}, "tickColor": "#000", "tickWidth": 1.3, "tickSize": {"condition": {"test": "datum.value == round(datum.value)", "value": -19}, "value": -5}}}, "x2": {"field": "hi"}}},
   {"data": {"name": "bars"}, "transform": [{"filter": "datum.id == 'lh_b'"}], "encoding": {"y": {"field": "kind", "type": "nominal", "scale": {"type": "point", "padding": 1}, "axis": null}, "color": {"field": "kind", "type": "nominal", "scale": {"domain": ["stat","syst","theo"], "range": ["#000000","#0000ff","#ff0000"]}, "legend": null}},
    "layer": [
     {"mark": {"type": "rule", "strokeWidth": 2.2}, "encoding": {"x": {"field": "lo", "type": "quantitative"}, "x2": {"field": "hi"}}},
     {"mark": {"type": "tick", "thickness": 2.2, "size": 13}, "encoding": {"x": {"field": "lo", "type": "quantitative"}}},
     {"mark": {"type": "tick", "thickness": 2.2, "size": 13}, "encoding": {"x": {"field": "hi", "type": "quantitative"}}}
    ]},
   {"mark": {"type": "rule", "color": "#000", "strokeWidth": 2.6}, "encoding": {"x": {"field": "mu", "type": "quantitative"}}},
   {"data": {"name": "bars"}, "transform": [{"filter": "datum.id == 'lh_b'"}], "encoding": {"x": {"datum": -0.597, "type": "quantitative"}, "y": {"field": "kind", "type": "nominal", "scale": {"type": "point", "padding": 0.57}, "axis": null}, "color": {"field": "kind", "type": "nominal", "legend": null}},
    "layer": [
     {"mark": {"type": "text", "align": "right", "baseline": "alphabetic", "fontSize": 16.5, "dy": -0.5}, "encoding": {"text": {"field": "up"}}},
     {"mark": {"type": "text", "align": "right", "baseline": "alphabetic", "fontSize": 16.5, "dy": 17}, "encoding": {"text": {"field": "dn"}}}
    ]},
   {"layer": [
     {"mark": {"type": "text", "fontSize": 24.5, "align": "left", "baseline": "alphabetic", "dy": 10.3, "color": "#000"}, "encoding": {"x": {"datum": -3.709, "type": "quantitative"}, "y": {"datum": 0.5, "type": "quantitative", "scale": {"domain": [0, 1]}, "axis": null}, "text": {"field": "name"}}},
     {"mark": {"type": "text", "fontSize": 29, "align": "right", "baseline": "alphabetic", "dy": 10.3, "color": "#138013"}, "encoding": {"x": {"datum": -1.396, "type": "quantitative"}, "y": {"datum": 0.5, "type": "quantitative"}, "text": {"field": "mt"}}},
     {"mark": {"type": "text", "fontSize": 16, "align": "left", "baseline": "alphabetic", "dy": -2.3, "color": "#138013"}, "encoding": {"x": {"datum": -1.353, "type": "quantitative"}, "y": {"datum": 0.5, "type": "quantitative"}, "text": {"field": "up"}}},
     {"mark": {"type": "text", "fontSize": 16, "align": "left", "baseline": "alphabetic", "dy": 15.3, "color": "#138013"}, "encoding": {"x": {"datum": -1.353, "type": "quantitative"}, "y": {"datum": 0.5, "type": "quantitative"}, "text": {"field": "dn"}}},
     {"mark": {"type": "rule", "color": "#4d4d4d", "strokeWidth": 2}, "encoding": {"x": {"datum": -3.788, "type": "quantitative"}}},
     {"mark": {"type": "rule", "color": "#4d4d4d", "strokeWidth": 1.5}, "encoding": {"x": {"datum": -0.986, "type": "quantitative"}}},
     {"mark": {"type": "rule", "color": "#000", "strokeWidth": 2}, "encoding": {"x": {"datum": -0.5, "type": "quantitative"}}},
     {"mark": {"type": "rule", "color": "#000", "strokeWidth": 2}, "encoding": {"x": {"datum": 4, "type": "quantitative"}}},
     {"mark": {"type": "rule", "color": "#4d4d4d", "strokeWidth": 1.5, "strokeDash": [7, 4]}, "encoding": {"x": {"datum": -3.788, "type": "quantitative"}, "x2": {"datum": -0.5}, "y": {"datum": 0, "type": "quantitative"}}},
     {"mark": {"type": "rule", "color": "#000", "strokeWidth": 2}, "encoding": {"x": {"datum": -0.5, "type": "quantitative"}, "x2": {"datum": 4}, "y": {"datum": 0, "type": "quantitative"}}}
   ]}
  ]},
 {"width": 919, "height": 59, "data": {"name": "rows"}, "transform": [{"filter": "datum.id == 'lh_v'"}], "resolve": {"scale": {"y": "independent"}},
  "layer": [
   {"mark": {"type": "rect", "color": "#99ff99"}, "encoding": {"x": {"field": "lo", "type": "quantitative", "scale": {"domain": [-3.788, 4], "nice": false, "zero": false}, "axis": {"title": null, "values": [-0.4,-0.2,0,0.2,0.4,0.6,0.8,1,1.2,1.4,1.6,1.8,2,2.2,2.4,2.6,2.8,3,3.2,3.4,3.6,3.8,4], "labels": false, "domain": false, "grid": true, "zindex": 1, "gridColor": "#000", "gridWidth": 2, "gridDash": [2, 9.7], "gridOpacity": {"condition": {"test": "datum.value == round(datum.value) && datum.value < 3.5", "value": 1}, "value": 0}, "tickColor": "#000", "tickWidth": 1.3, "tickSize": {"condition": {"test": "datum.value == round(datum.value)", "value": -19}, "value": -5}}}, "x2": {"field": "hi"}}},
   {"data": {"name": "bars"}, "transform": [{"filter": "datum.id == 'lh_v'"}], "encoding": {"y": {"field": "kind", "type": "nominal", "scale": {"type": "point", "padding": 1}, "axis": null}, "color": {"field": "kind", "type": "nominal", "scale": {"domain": ["stat","syst","theo"], "range": ["#000000","#0000ff","#ff0000"]}, "legend": null}},
    "layer": [
     {"mark": {"type": "rule", "strokeWidth": 2.2}, "encoding": {"x": {"field": "lo", "type": "quantitative"}, "x2": {"field": "hi"}}},
     {"mark": {"type": "tick", "thickness": 2.2, "size": 13}, "encoding": {"x": {"field": "lo", "type": "quantitative"}}},
     {"mark": {"type": "tick", "thickness": 2.2, "size": 13}, "encoding": {"x": {"field": "hi", "type": "quantitative"}}}
    ]},
   {"mark": {"type": "rule", "color": "#000", "strokeWidth": 2.6}, "encoding": {"x": {"field": "mu", "type": "quantitative"}}},
   {"data": {"name": "bars"}, "transform": [{"filter": "datum.id == 'lh_v'"}], "encoding": {"x": {"datum": -0.597, "type": "quantitative"}, "y": {"field": "kind", "type": "nominal", "scale": {"type": "point", "padding": 0.57}, "axis": null}, "color": {"field": "kind", "type": "nominal", "legend": null}},
    "layer": [
     {"mark": {"type": "text", "align": "right", "baseline": "alphabetic", "fontSize": 16.5, "dy": -0.5}, "encoding": {"text": {"field": "up"}}},
     {"mark": {"type": "text", "align": "right", "baseline": "alphabetic", "fontSize": 16.5, "dy": 17}, "encoding": {"text": {"field": "dn"}}}
    ]},
   {"layer": [
     {"mark": {"type": "text", "fontSize": 24.5, "align": "left", "baseline": "alphabetic", "dy": 10.3, "color": "#000"}, "encoding": {"x": {"datum": -3.709, "type": "quantitative"}, "y": {"datum": 0.5, "type": "quantitative", "scale": {"domain": [0, 1]}, "axis": null}, "text": {"field": "name"}}},
     {"mark": {"type": "text", "fontSize": 29, "align": "right", "baseline": "alphabetic", "dy": 10.3, "color": "#138013"}, "encoding": {"x": {"datum": -1.396, "type": "quantitative"}, "y": {"datum": 0.5, "type": "quantitative"}, "text": {"field": "mt"}}},
     {"mark": {"type": "text", "fontSize": 16, "align": "left", "baseline": "alphabetic", "dy": -2.3, "color": "#138013"}, "encoding": {"x": {"datum": -1.353, "type": "quantitative"}, "y": {"datum": 0.5, "type": "quantitative"}, "text": {"field": "up"}}},
     {"mark": {"type": "text", "fontSize": 16, "align": "left", "baseline": "alphabetic", "dy": 15.3, "color": "#138013"}, "encoding": {"x": {"datum": -1.353, "type": "quantitative"}, "y": {"datum": 0.5, "type": "quantitative"}, "text": {"field": "dn"}}},
     {"mark": {"type": "rule", "color": "#4d4d4d", "strokeWidth": 2}, "encoding": {"x": {"datum": -3.788, "type": "quantitative"}}},
     {"mark": {"type": "rule", "color": "#4d4d4d", "strokeWidth": 1.5}, "encoding": {"x": {"datum": -0.986, "type": "quantitative"}}},
     {"mark": {"type": "rule", "color": "#000", "strokeWidth": 2}, "encoding": {"x": {"datum": -0.5, "type": "quantitative"}}},
     {"mark": {"type": "rule", "color": "#000", "strokeWidth": 2}, "encoding": {"x": {"datum": 4, "type": "quantitative"}}},
     {"mark": {"type": "rule", "color": "#3a3a3a", "strokeWidth": 2}, "encoding": {"x": {"datum": -3.788, "type": "quantitative"}, "x2": {"datum": 4}, "y": {"datum": 0, "type": "quantitative"}}}
   ]}
  ]},
 {"width": 919, "height": 3, "data": {"name": "gap"}, "mark": {"type": "rule", "color": "#4d4d4d", "strokeWidth": 2}, "encoding": {"x": {"datum": -3.788, "type": "quantitative", "scale": {"domain": [-3.788, 4], "nice": false, "zero": false}, "axis": null}}},
 {"width": 919, "height": 115.3, "data": {"name": "rows"}, "transform": [{"filter": "datum.id == 'hh'"}], "resolve": {"scale": {"y": "independent"}},
  "layer": [
   {"mark": {"type": "rect", "color": "#99ff99"}, "encoding": {"x": {"field": "lo", "type": "quantitative", "scale": {"domain": [-3.788, 4], "nice": false, "zero": false}, "axis": {"title": null, "values": [-0.4,-0.2,0,0.2,0.4,0.6,0.8,1,1.2,1.4,1.6,1.8,2,2.2,2.4,2.6,2.8,3,3.2,3.4,3.6,3.8,4], "labels": false, "domain": false, "grid": true, "zindex": 1, "gridColor": "#000", "gridWidth": 2, "gridDash": [2, 9.7], "gridOpacity": {"condition": {"test": "datum.value == round(datum.value) && datum.value < 3.5", "value": 1}, "value": 0}, "tickColor": "#000", "tickWidth": 1.3, "tickSize": {"condition": {"test": "datum.value == round(datum.value)", "value": -19}, "value": -5}}}, "x2": {"field": "hi"}}},
   {"data": {"name": "bars"}, "transform": [{"filter": "datum.id == 'hh'"}], "encoding": {"y": {"field": "kind", "type": "nominal", "scale": {"type": "point", "padding": 1}, "axis": null}, "color": {"field": "kind", "type": "nominal", "scale": {"domain": ["stat","syst","theo"], "range": ["#000000","#0000ff","#ff0000"]}, "legend": null}},
    "layer": [
     {"mark": {"type": "rule", "strokeWidth": 2.2}, "encoding": {"x": {"field": "lo", "type": "quantitative"}, "x2": {"field": "hi"}}},
     {"mark": {"type": "tick", "thickness": 2.2, "size": 13}, "encoding": {"x": {"field": "lo", "type": "quantitative"}}},
     {"mark": {"type": "tick", "thickness": 2.2, "size": 13}, "encoding": {"x": {"field": "hi", "type": "quantitative"}}}
    ]},
   {"mark": {"type": "rule", "color": "#000", "strokeWidth": 2.6}, "encoding": {"x": {"field": "mu", "type": "quantitative"}}},
   {"data": {"name": "bars"}, "transform": [{"filter": "datum.id == 'hh'"}], "encoding": {"x": {"datum": -0.597, "type": "quantitative"}, "y": {"field": "kind", "type": "nominal", "scale": {"type": "point", "padding": 0.57}, "axis": null}, "color": {"field": "kind", "type": "nominal", "legend": null}},
    "layer": [
     {"mark": {"type": "text", "align": "right", "baseline": "alphabetic", "fontSize": 16.5, "dy": -0.5}, "encoding": {"text": {"field": "up"}}},
     {"mark": {"type": "text", "align": "right", "baseline": "alphabetic", "fontSize": 16.5, "dy": 17}, "encoding": {"text": {"field": "dn"}}}
    ]},
   {"layer": [
     {"mark": {"type": "text", "text": "H", "fontSize": 30, "fontWeight": "bold", "align": "left", "baseline": "alphabetic", "dx": 0.7, "dy": 9.7, "color": "#000"}, "encoding": {"x": {"datum": -3.709, "type": "quantitative"}, "y": {"datum": 0.5, "type": "quantitative", "scale": {"domain": [0, 1]}, "axis": null}}},
     {"mark": {"type": "text", "text": "→", "font": "Noto Sans CJK SC", "fontSize": 31, "align": "left", "baseline": "alphabetic", "dx": 33, "dy": 9.7, "color": "#000"}, "encoding": {"x": {"datum": -3.709, "type": "quantitative"}, "y": {"datum": 0.5, "type": "quantitative"}}},
     {"mark": {"type": "text", "text": "τ", "font": "Liberation Serif", "fontSize": 33, "align": "left", "baseline": "alphabetic", "dx": 76.3, "dy": 9.7, "color": "#000"}, "encoding": {"x": {"datum": -3.709, "type": "quantitative"}, "y": {"datum": 0.5, "type": "quantitative"}}},
     {"mark": {"type": "text", "fontSize": 19, "align": "left", "baseline": "alphabetic", "dx": 91, "dy": 18, "color": "#000"}, "encoding": {"x": {"datum": -3.709, "type": "quantitative"}, "y": {"datum": 0.5, "type": "quantitative"}, "text": {"field": "s1"}}},
     {"mark": {"type": "text", "text": "τ", "font": "Liberation Serif", "fontSize": 33, "align": "left", "baseline": "alphabetic", "dx": 124.7, "dy": 9.7, "color": "#000"}, "encoding": {"x": {"datum": -3.709, "type": "quantitative"}, "y": {"datum": 0.5, "type": "quantitative"}}},
     {"mark": {"type": "text", "fontSize": 19, "align": "left", "baseline": "alphabetic", "dx": 138, "dy": 18, "color": "#000"}, "encoding": {"x": {"datum": -3.709, "type": "quantitative"}, "y": {"datum": 0.5, "type": "quantitative"}, "text": {"field": "s2"}}},
     {"mark": {"type": "text", "fontSize": 30, "align": "right", "baseline": "alphabetic", "dy": 14.7, "color": "#138013"}, "encoding": {"x": {"datum": -1.396, "type": "quantitative"}, "y": {"datum": 0.5, "type": "quantitative"}, "text": {"field": "mt"}}},
     {"mark": {"type": "text", "fontSize": 16, "align": "left", "baseline": "alphabetic", "dy": 0.7, "color": "#138013"}, "encoding": {"x": {"datum": -1.353, "type": "quantitative"}, "y": {"datum": 0.5, "type": "quantitative"}, "text": {"field": "up"}}},
     {"mark": {"type": "text", "fontSize": 16, "align": "left", "baseline": "alphabetic", "dy": 20.7, "color": "#138013"}, "encoding": {"x": {"datum": -1.353, "type": "quantitative"}, "y": {"datum": 0.5, "type": "quantitative"}, "text": {"field": "dn"}}},
     {"mark": {"type": "rule", "color": "#4d4d4d", "strokeWidth": 2}, "encoding": {"x": {"datum": -3.788, "type": "quantitative"}}},
     {"mark": {"type": "rule", "color": "#4d4d4d", "strokeWidth": 1.5}, "encoding": {"x": {"datum": -0.986, "type": "quantitative"}}},
     {"mark": {"type": "rule", "color": "#000", "strokeWidth": 2}, "encoding": {"x": {"datum": -0.5, "type": "quantitative"}}},
     {"mark": {"type": "rule", "color": "#000", "strokeWidth": 2}, "encoding": {"x": {"datum": 4, "type": "quantitative"}}},
     {"mark": {"type": "rule", "color": "#3a3a3a", "strokeWidth": 2}, "encoding": {"x": {"datum": -3.788, "type": "quantitative"}, "x2": {"datum": 4}, "y": {"datum": 1, "type": "quantitative"}}},
     {"mark": {"type": "rule", "color": "#4d4d4d", "strokeWidth": 1.5, "strokeDash": [7, 4]}, "encoding": {"x": {"datum": -3.788, "type": "quantitative"}, "x2": {"datum": -0.5}, "y": {"datum": 0, "type": "quantitative"}}},
     {"mark": {"type": "rule", "color": "#000", "strokeWidth": 2}, "encoding": {"x": {"datum": -0.5, "type": "quantitative"}, "x2": {"datum": 4}, "y": {"datum": 0, "type": "quantitative"}}}
   ]}
  ]},
 {"width": 919, "height": 59, "data": {"name": "rows"}, "transform": [{"filter": "datum.id == 'hh_b'"}], "resolve": {"scale": {"y": "independent"}},
  "layer": [
   {"mark": {"type": "rect", "color": "#99ff99"}, "encoding": {"x": {"field": "lo", "type": "quantitative", "scale": {"domain": [-3.788, 4], "nice": false, "zero": false}, "axis": {"title": null, "values": [-0.4,-0.2,0,0.2,0.4,0.6,0.8,1,1.2,1.4,1.6,1.8,2,2.2,2.4,2.6,2.8,3,3.2,3.4,3.6,3.8,4], "labels": false, "domain": false, "grid": true, "zindex": 1, "gridColor": "#000", "gridWidth": 2, "gridDash": [2, 9.7], "gridOpacity": {"condition": {"test": "datum.value == round(datum.value) && datum.value < 3.5", "value": 1}, "value": 0}, "tickColor": "#000", "tickWidth": 1.3, "tickSize": {"condition": {"test": "datum.value == round(datum.value)", "value": -19}, "value": -5}}}, "x2": {"field": "hi"}}},
   {"data": {"name": "bars"}, "transform": [{"filter": "datum.id == 'hh_b'"}], "encoding": {"y": {"field": "kind", "type": "nominal", "scale": {"type": "point", "padding": 1}, "axis": null}, "color": {"field": "kind", "type": "nominal", "scale": {"domain": ["stat","syst","theo"], "range": ["#000000","#0000ff","#ff0000"]}, "legend": null}},
    "layer": [
     {"mark": {"type": "rule", "strokeWidth": 2.2}, "encoding": {"x": {"field": "lo", "type": "quantitative"}, "x2": {"field": "hi"}}},
     {"mark": {"type": "tick", "thickness": 2.2, "size": 13}, "encoding": {"x": {"field": "lo", "type": "quantitative"}}},
     {"mark": {"type": "tick", "thickness": 2.2, "size": 13}, "encoding": {"x": {"field": "hi", "type": "quantitative"}}}
    ]},
   {"mark": {"type": "rule", "color": "#000", "strokeWidth": 2.6}, "encoding": {"x": {"field": "mu", "type": "quantitative"}}},
   {"data": {"name": "bars"}, "transform": [{"filter": "datum.id == 'hh_b'"}], "encoding": {"x": {"datum": -0.597, "type": "quantitative"}, "y": {"field": "kind", "type": "nominal", "scale": {"type": "point", "padding": 0.57}, "axis": null}, "color": {"field": "kind", "type": "nominal", "legend": null}},
    "layer": [
     {"mark": {"type": "text", "align": "right", "baseline": "alphabetic", "fontSize": 16.5, "dy": -0.5}, "encoding": {"text": {"field": "up"}}},
     {"mark": {"type": "text", "align": "right", "baseline": "alphabetic", "fontSize": 16.5, "dy": 17}, "encoding": {"text": {"field": "dn"}}}
    ]},
   {"layer": [
     {"mark": {"type": "text", "fontSize": 24.5, "align": "left", "baseline": "alphabetic", "dy": 10.3, "color": "#000"}, "encoding": {"x": {"datum": -3.709, "type": "quantitative"}, "y": {"datum": 0.5, "type": "quantitative", "scale": {"domain": [0, 1]}, "axis": null}, "text": {"field": "name"}}},
     {"mark": {"type": "text", "fontSize": 29, "align": "right", "baseline": "alphabetic", "dy": 10.3, "color": "#138013"}, "encoding": {"x": {"datum": -1.396, "type": "quantitative"}, "y": {"datum": 0.5, "type": "quantitative"}, "text": {"field": "mt"}}},
     {"mark": {"type": "text", "fontSize": 16, "align": "left", "baseline": "alphabetic", "dy": -2.3, "color": "#138013"}, "encoding": {"x": {"datum": -1.353, "type": "quantitative"}, "y": {"datum": 0.5, "type": "quantitative"}, "text": {"field": "up"}}},
     {"mark": {"type": "text", "fontSize": 16, "align": "left", "baseline": "alphabetic", "dy": 15.3, "color": "#138013"}, "encoding": {"x": {"datum": -1.353, "type": "quantitative"}, "y": {"datum": 0.5, "type": "quantitative"}, "text": {"field": "dn"}}},
     {"mark": {"type": "rule", "color": "#4d4d4d", "strokeWidth": 2}, "encoding": {"x": {"datum": -3.788, "type": "quantitative"}}},
     {"mark": {"type": "rule", "color": "#4d4d4d", "strokeWidth": 1.5}, "encoding": {"x": {"datum": -0.986, "type": "quantitative"}}},
     {"mark": {"type": "rule", "color": "#000", "strokeWidth": 2}, "encoding": {"x": {"datum": -0.5, "type": "quantitative"}}},
     {"mark": {"type": "rule", "color": "#000", "strokeWidth": 2}, "encoding": {"x": {"datum": 4, "type": "quantitative"}}},
     {"mark": {"type": "rule", "color": "#4d4d4d", "strokeWidth": 1.5, "strokeDash": [7, 4]}, "encoding": {"x": {"datum": -3.788, "type": "quantitative"}, "x2": {"datum": -0.5}, "y": {"datum": 0, "type": "quantitative"}}},
     {"mark": {"type": "rule", "color": "#000", "strokeWidth": 2}, "encoding": {"x": {"datum": -0.5, "type": "quantitative"}, "x2": {"datum": 4}, "y": {"datum": 0, "type": "quantitative"}}}
   ]}
  ]},
 {"width": 919, "height": 59, "data": {"name": "rows"}, "transform": [{"filter": "datum.id == 'hh_v'"}], "resolve": {"scale": {"y": "independent"}},
  "layer": [
   {"mark": {"type": "rect", "color": "#99ff99"}, "encoding": {"x": {"field": "lo", "type": "quantitative", "scale": {"domain": [-3.788, 4], "nice": false, "zero": false}, "axis": {"title": "Signal strength (μ)", "values": [-0.4,-0.2,0,0.2,0.4,0.6,0.8,1,1.2,1.4,1.6,1.8,2,2.2,2.4,2.6,2.8,3,3.2,3.4,3.6,3.8,4], "labels": true, "labelExpr": "datum.value == round(datum.value) ? '' + datum.value : ''", "labelFont": "Liberation Sans", "labelFontSize": 48, "labelColor": "#000", "labelPadding": 33, "labelFlush": false, "labelOverlap": false, "titleFont": "Liberation Sans", "titleFontSize": 44, "titleFontWeight": "normal", "titleColor": "#000", "titleAnchor": "end", "titlePadding": 0, "domain": false, "grid": true, "zindex": 1, "gridColor": "#000", "gridWidth": 2, "gridDash": [2, 9.7], "gridOpacity": {"condition": {"test": "datum.value == round(datum.value) && datum.value < 3.5", "value": 1}, "value": 0}, "tickColor": "#000", "tickWidth": 1.3, "tickSize": {"condition": {"test": "datum.value == round(datum.value)", "value": -19}, "value": -5}}}, "x2": {"field": "hi"}}},
   {"data": {"name": "bars"}, "transform": [{"filter": "datum.id == 'hh_v'"}], "encoding": {"y": {"field": "kind", "type": "nominal", "scale": {"type": "point", "padding": 1}, "axis": null}, "color": {"field": "kind", "type": "nominal", "scale": {"domain": ["stat","syst","theo"], "range": ["#000000","#0000ff","#ff0000"]}, "legend": null}},
    "layer": [
     {"mark": {"type": "rule", "strokeWidth": 2.2}, "encoding": {"x": {"field": "lo", "type": "quantitative"}, "x2": {"field": "hi"}}},
     {"mark": {"type": "tick", "thickness": 2.2, "size": 13}, "encoding": {"x": {"field": "lo", "type": "quantitative"}}},
     {"mark": {"type": "tick", "thickness": 2.2, "size": 13}, "encoding": {"x": {"field": "hi", "type": "quantitative"}}}
    ]},
   {"mark": {"type": "rule", "color": "#000", "strokeWidth": 2.6}, "encoding": {"x": {"field": "mu", "type": "quantitative"}}},
   {"data": {"name": "bars"}, "transform": [{"filter": "datum.id == 'hh_v'"}], "encoding": {"x": {"datum": -0.597, "type": "quantitative"}, "y": {"field": "kind", "type": "nominal", "scale": {"type": "point", "padding": 0.57}, "axis": null}, "color": {"field": "kind", "type": "nominal", "legend": null}},
    "layer": [
     {"mark": {"type": "text", "align": "right", "baseline": "alphabetic", "fontSize": 16.5, "dy": -0.5}, "encoding": {"text": {"field": "up"}}},
     {"mark": {"type": "text", "align": "right", "baseline": "alphabetic", "fontSize": 16.5, "dy": 17}, "encoding": {"text": {"field": "dn"}}}
    ]},
   {"layer": [
     {"mark": {"type": "text", "fontSize": 24.5, "align": "left", "baseline": "alphabetic", "dy": 10.3, "color": "#000"}, "encoding": {"x": {"datum": -3.709, "type": "quantitative"}, "y": {"datum": 0.5, "type": "quantitative", "scale": {"domain": [0, 1]}, "axis": null}, "text": {"field": "name"}}},
     {"mark": {"type": "text", "fontSize": 29, "align": "right", "baseline": "alphabetic", "dy": 10.3, "color": "#138013"}, "encoding": {"x": {"datum": -1.396, "type": "quantitative"}, "y": {"datum": 0.5, "type": "quantitative"}, "text": {"field": "mt"}}},
     {"mark": {"type": "text", "fontSize": 16, "align": "left", "baseline": "alphabetic", "dy": -2.3, "color": "#138013"}, "encoding": {"x": {"datum": -1.353, "type": "quantitative"}, "y": {"datum": 0.5, "type": "quantitative"}, "text": {"field": "up"}}},
     {"mark": {"type": "text", "fontSize": 16, "align": "left", "baseline": "alphabetic", "dy": 15.3, "color": "#138013"}, "encoding": {"x": {"datum": -1.353, "type": "quantitative"}, "y": {"datum": 0.5, "type": "quantitative"}, "text": {"field": "dn"}}},
     {"mark": {"type": "rule", "color": "#4d4d4d", "strokeWidth": 2}, "encoding": {"x": {"datum": -3.788, "type": "quantitative"}}},
     {"mark": {"type": "rule", "color": "#4d4d4d", "strokeWidth": 1.5}, "encoding": {"x": {"datum": -0.986, "type": "quantitative"}}},
     {"mark": {"type": "rule", "color": "#000", "strokeWidth": 2}, "encoding": {"x": {"datum": -0.5, "type": "quantitative"}}},
     {"mark": {"type": "rule", "color": "#000", "strokeWidth": 2}, "encoding": {"x": {"datum": 4, "type": "quantitative"}}},
     {"mark": {"type": "rule", "color": "#3a3a3a", "strokeWidth": 2}, "encoding": {"x": {"datum": -3.788, "type": "quantitative"}, "x2": {"datum": 4}, "y": {"datum": 0, "type": "quantitative"}}},
     {"mark": {"type": "text", "text": "√s = 8 TeV \u00a0∫Ldt = 20.3 fb", "fontSize": 41, "align": "left", "baseline": "alphabetic", "dy": 111, "color": "#000"}, "encoding": {"x": {"datum": -3.78, "type": "quantitative"}, "y": {"datum": 0, "type": "quantitative"}}},
     {"mark": {"type": "text", "text": "-1", "fontSize": 24, "align": "left", "baseline": "alphabetic", "dy": 79, "color": "#000"}, "encoding": {"x": {"datum": 0.065, "type": "quantitative"}, "y": {"datum": 0, "type": "quantitative"}}}
   ]}
  ]}
]
}
